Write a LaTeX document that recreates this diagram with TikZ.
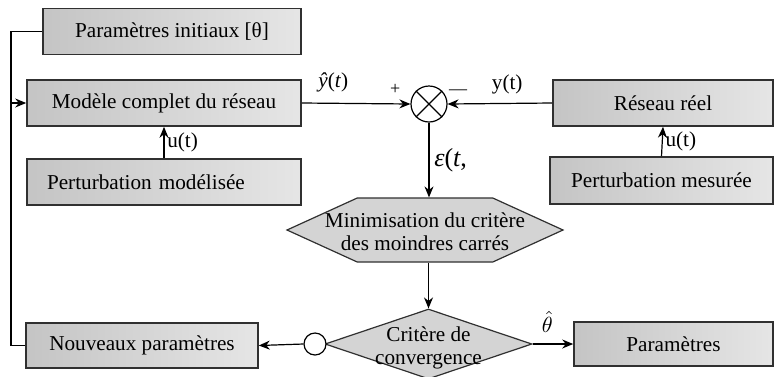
\documentclass[tikz,border=0pt]{standalone}
\usepackage{fontspec}
\setmainfont{Liberation Serif}
\usetikzlibrary{positioning,shapes.geometric,shapes.symbols,arrows.meta}
\definecolor{boxline}{HTML}{303030}

\begin{document}
\begin{tikzpicture}[x=0.5pt, y=-0.5pt,
  every node/.style={font=\fontsize{10.6}{11.5}\selectfont},
  box/.style={draw=boxline, line width=0.8pt, left color=black!23, right color=black!10, inner sep=0pt, minimum height=23pt},
  sumnode/.style={circle, draw, line width=0.6pt, fill=white, inner sep=0pt},
  link/.style={line width=0.6pt, -{Stealth[length=5.5pt,width=4.5pt]}}]
  \useasboundingbox (0,0) rectangle (774,376);

  % boxes
  \node[box, minimum width=129pt] (init) at (172,31.5) {Paramètres initiaux [θ]};
  \node[box, minimum width=137pt] (model) at (164,103) {Modèle complet du réseau};
  \node[box, minimum width=137pt, text width=117pt, inner xsep=10pt, align=left] (pmod) at (164,182) {Perturbation modélisée};
  \node[box, minimum width=110pt] (reel) at (663,103) {Réseau réel};
  \node[box, minimum width=111.5pt, minimum height=23.5pt] (pmes) at (661.5,180.5) {Perturbation mesurée};
  \node[box, minimum width=116pt, minimum height=22.5pt] (newp) at (142,345.5) {Nouveaux paramètres};
  \node[box, minimum width=99.5pt, minimum height=22pt] (param) at (673.5,344) {Paramètres};

  % comparateur
  \node[sumnode, minimum size=18pt] (sum) at (429,104) {};
  \draw[line width=0.6pt] (sum.north west) -- (sum.south east) (sum.north east) -- (sum.south west);

  \node[signal, signal to=east and west, signal pointer angle=49, draw=boxline, line width=0.6pt, fill=black!17,
    inner sep=0pt, minimum width=138pt, minimum height=32pt,
    label={[align=center, yshift=-1pt]center:Minimisation du critère\\des moindres carrés}] (mini) at (425,230) {};
  \node[diamond, aspect=3, draw=boxline, line width=0.6pt, fill=black!17, inner sep=0pt,
    minimum width=103.5pt, minimum height=35pt,
    label={[align=center, yshift=-2pt]center:Critère de\\convergence}] (conv) at (428.5,344) {};
  \node[sumnode, minimum size=11pt] (knot) at (315,344) {};

  % liaisons
  \coordinate (lft) at (11,103);
  \draw[line width=0.6pt] (init.west) -| (lft) |- (newp.west);
  \draw[link] (lft) -- (model.west);
  \draw[link] (model.east) -- (sum.west)
    node[pos=.29, above=2pt] {\textit{ŷ}(\textit{t})}
    node[pos=.86, above=1pt, font=\fontsize{9}{9}\selectfont] {+};
  \draw[link] (reel.west) -- (sum.east)
    node[pos=.43, above=1pt] {y(t)}
    node[pos=.9, above=1pt, font=\fontsize{9}{9}\selectfont] {---};
  \draw[link] (pmod.north) -- (model.south) node[midway, right=-2pt] {u(t)};
  \draw[link] (pmes.north) -- (reel.south) node[midway, right=-2pt] {u(t)};
  \draw[link] (sum.south) -- (sum.south |- mini.north)
    node[midway, right=-1pt, font=\fontsize{13}{13}\selectfont] {\textit{ε}(\textit{t},};
  \draw[link] (mini.south -| conv.north) -- (conv.north);
  \draw[link] (conv.east) -- (param.west) node[pos=.36, above=2pt] {$\hat{\theta}$};
  \draw[link] (knot.west) -- (newp.east);
\end{tikzpicture}
\end{document}
